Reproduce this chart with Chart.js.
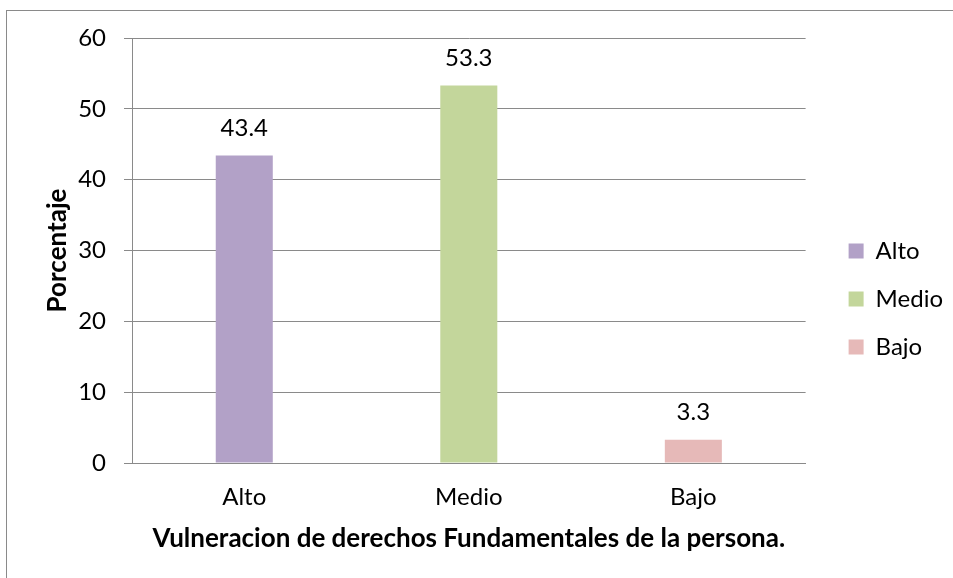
<!DOCTYPE html>
<html>
<head>
<meta charset="utf-8">
<script src="https://cdn.jsdelivr.net/npm/chart.js@4.4.1/dist/chart.umd.min.js"></script>
<style>
  html, body { margin: 0; padding: 0; background: #fff; overflow: hidden; }
  #frame { position: absolute; left: 6px; top: 10px; width: 1000px; height: 1000px; border: 1px solid #8a8a8a; }
  #wrap { position: absolute; left: 0; top: 0; width: 953px; height: 578px; }
</style>
</head>
<body>
<div id="frame"></div>
<div id="wrap"><canvas id="myChart" width="953" height="578"></canvas></div>
<script>
// categories and values
var categories = ["Alto", "Medio", "Bajo"];
var values = [43.4, 53.3, 3.3];
var barColors = ["#b2a1c7", "#c3d69b", "#e6b9b8"];
var yTicks = [0, 10, 20, 30, 40, 50, 60];
var yTitle = "Porcentaje";
var xTitle = "Vulneracion de derechos Fundamentales de la persona.";

var gridColor = "#8a8a8a";
var fontFamily = "Lato, 'Open Sans', sans-serif";

// one dataset per category so the legend shows each level
datasets = categories.map(function (cat, i) {
    var d = categories.map(function (c, j) { return j == i ? values[i] : null; });
    return {
        label: cat,
        data: d,
        backgroundColor: barColors[i],
        borderWidth: 0,
        categoryPercentage: 1,
        barPercentage: 0.254
    };
});

// value labels above bars
var valueLabels = {
    id: "valueLabels",
    afterDatasetsDraw: function (chart) {
        var ctx = chart.ctx;
        ctx.save();
        ctx.font = "24px " + fontFamily;
        ctx.fillStyle = "#000";
        ctx.textAlign = "center";
        ctx.textBaseline = "middle";
        chart.data.datasets.forEach(function (ds, i) {
            var meta = chart.getDatasetMeta(i);
            meta.data.forEach(function (bar, j) {
                if (ds.data[j] == null) return;
                ctx.fillText(ds.data[j].toFixed(1), bar.x, bar.y - 27);
            });
        });
        ctx.restore();
    }
};

myChart = new Chart(document.getElementById("myChart").getContext("2d"), {
    type: "bar",
    data: { labels: categories, datasets: datasets },
    plugins: [valueLabels],
    options: {
        responsive: false,
        animation: false,
        layout: { padding: { top: 38, right: 0, bottom: 18, left: 0 } },
        plugins: {
            tooltip: { enabled: false },
            legend: {
                position: "right",
                labels: {
                    boxWidth: 15,
                    boxHeight: 15,
                    padding: 24,
                    color: "#000",
                    font: { family: fontFamily, size: 24 }
                }
            }
        },
        scales: {
            x: {
                stacked: true,
                grid: { display: false, drawTicks: false },
                border: { display: true, color: gridColor, width: 1 },
                ticks: { color: "#000", padding: 20, font: { family: fontFamily, size: 24 } },
                title: {
                    display: true,
                    text: xTitle,
                    color: "#000",
                    font: { family: fontFamily, size: 26, weight: "bold" },
                    padding: { top: 0, bottom: 6 }
                },
                afterFit: function (scale) { scale.height = 97; }
            },
            y: {
                min: 0,
                max: 60,
                afterBuildTicks: function (scale) {
                    scale.ticks = yTicks.map(function (v) { return { value: v }; });
                },
                grid: { color: gridColor, lineWidth: 1, tickLength: 8, drawTicks: true },
                border: { display: true, color: gridColor, width: 1 },
                ticks: { color: "#000", padding: 18, font: { family: fontFamily, size: 24 } },
                title: {
                    display: true,
                    text: yTitle,
                    color: "#000",
                    font: { family: fontFamily, size: 26, weight: "bold" },
                    padding: { top: 42, bottom: 0 }
                },
                afterFit: function (scale) { scale.width = 132; }
            },
            gap: {
                position: "right",
                display: true,
                grid: { display: false },
                border: { display: false },
                ticks: { display: false },
                afterFit: function (scale) { scale.width = 19; }
            }
        }
    }
});
</script>
</body>
</html>
